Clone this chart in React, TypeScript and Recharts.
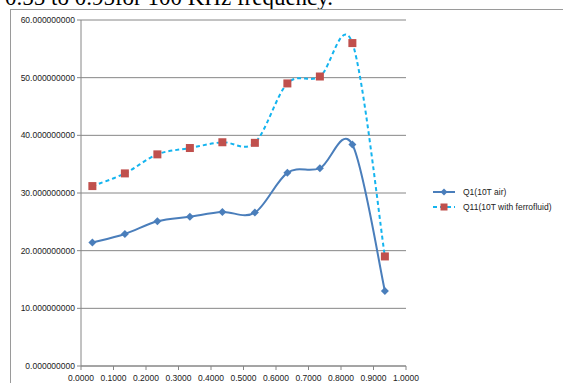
import { CartesianGrid, Line, LineChart, XAxis, YAxis } from 'recharts'

const xValues = [0.035, 0.135, 0.235, 0.335, 0.435, 0.535, 0.635, 0.735, 0.835, 0.935]
const q1Air = [21.4, 22.9, 25.1, 25.9, 26.7, 26.6, 33.5, 34.3, 38.4, 13.0]
const q11Ferro = [31.2, 33.4, 36.7, 37.8, 38.8, 38.7, 49.0, 50.2, 56.0, 19.0]
const xTicks = [0, 0.1, 0.2, 0.3, 0.4, 0.5, 0.6, 0.7, 0.8, 0.9, 1.0]
const yTicks = [0, 10, 20, 30, 40, 50, 60]
const seriesNames = ['Q1(10T air)', 'Q11(10T with ferrofluid)']

const rows = xValues.map((x, i) => ({ x, q1: q1Air[i], q11: q11Ferro[i] }))

const BLUE = '#4a7ebb'
const CYAN = '#14b4ef'
const RED = '#c0504d'
const FONT = '"Liberation Sans", Arial, sans-serif'

// excel style smoothing: catmull-rom segments drawn as beziers
function excelSmooth(context: any) {
  let pts: number[][] = []
  return {
    areaStart() {},
    areaEnd() {},
    lineStart() {
      pts = []
    },
    point(x: number, y: number) {
      pts.push([+x, +y])
    },
    lineEnd() {
      if (!pts.length) return
      context.moveTo(pts[0][0], pts[0][1])
      for (let i = 0; i < pts.length - 1; i++) {
        const p0 = pts[i - 1] || pts[i]
        const p1 = pts[i]
        const p2 = pts[i + 1]
        const p3 = pts[i + 2] || pts[i + 1]
        context.bezierCurveTo(
          p1[0] + (p2[0] - p0[0]) / 6,
          p1[1] + (p2[1] - p0[1]) / 6,
          p2[0] - (p3[0] - p1[0]) / 6,
          p2[1] - (p3[1] - p1[1]) / 6,
          p2[0],
          p2[1],
        )
      }
    },
  }
}

const Diamond = ({ cx, cy }: any) => (
  <path d={`M${cx},${cy - 4}L${cx + 4},${cy}L${cx},${cy + 4}L${cx - 4},${cy}Z`} fill={BLUE} />
)

const Square = ({ cx, cy }: any) => <rect x={cx - 4} y={cy - 4} width={8} height={8} fill={RED} />

function LegendBox() {
  return (
    <div style={{ position: 'absolute', left: 433, top: 184, fontFamily: FONT, fontSize: 8.5, color: '#222' }}>
      <div style={{ display: 'flex', alignItems: 'center', height: 15 }}>
        <svg width={26} height={10}>
          <line x1={0} y1={5} x2={22} y2={5} stroke={BLUE} strokeWidth={2} />
          <path d="M11,1.5L14.5,5L11,8.5L7.5,5Z" fill={BLUE} />
        </svg>
        <span style={{ marginLeft: 4 }}>{seriesNames[0]}</span>
      </div>
      <div style={{ display: 'flex', alignItems: 'center', height: 15 }}>
        <svg width={26} height={10}>
          <line x1={0} y1={5} x2={22} y2={5} stroke={CYAN} strokeWidth={2} strokeDasharray="4 3" />
          <rect x={7.5} y={1.5} width={7} height={7} fill={RED} />
        </svg>
        <span style={{ marginLeft: 4 }}>{seriesNames[1]}</span>
      </div>
    </div>
  )
}

export default function App() {
  return (
    <div style={{ position: 'absolute', left: 0, top: 0, width: 563, height: 383, overflow: 'hidden', background: '#fff' }}>
      <div
        style={{
          position: 'absolute',
          left: 5,
          top: -14,
          fontFamily: '"Liberation Serif", "Times New Roman", serif',
          fontSize: 23,
          lineHeight: '23px',
          whiteSpace: 'nowrap',
          color: '#000',
        }}
      >
        0.55 to 0.95for 100 KHz frequency.
      </div>
      <div
        style={{
          position: 'absolute',
          left: 10,
          top: 9,
          width: 560,
          height: 380,
          borderLeft: '1px solid #9a9a9a',
          borderTop: '1px solid #9a9a9a',
        }}
      >
        <LineChart width={552} height={378} data={rows} margin={{ top: 10, right: 157, bottom: 0, left: 0 }}>
          <CartesianGrid vertical={false} stroke="#868686" strokeWidth={1} />
          <XAxis
            dataKey="x"
            type="number"
            domain={[0, 1]}
            ticks={xTicks}
            tickFormatter={(v: number) => v.toFixed(4)}
            height={22}
            tickSize={4}
            tickMargin={5}
            stroke="#868686"
            tick={{ fill: '#222', fontSize: 8.5, fontFamily: FONT }}
            interval={0}
          />
          <YAxis
            type="number"
            domain={[0, 60]}
            ticks={yTicks}
            tickFormatter={(v: number) => v.toFixed(9)}
            width={70}
            tickSize={4}
            tickMargin={2}
            stroke="#868686"
            tick={{ fill: '#222', fontSize: 8.5, fontFamily: FONT }}
            interval={0}
          />
          <Line
            dataKey="q1"
            name={seriesNames[0]}
            type={excelSmooth as any}
            stroke={BLUE}
            strokeWidth={2}
            dot={<Diamond />}
            activeDot={false}
            isAnimationActive={false}
          />
          <Line
            dataKey="q11"
            name={seriesNames[1]}
            type={excelSmooth as any}
            stroke={CYAN}
            strokeWidth={2}
            strokeDasharray="4 3"
            dot={<Square />}
            activeDot={false}
            isAnimationActive={false}
          />
        </LineChart>
      </div>
      <LegendBox />
    </div>
  )
}
